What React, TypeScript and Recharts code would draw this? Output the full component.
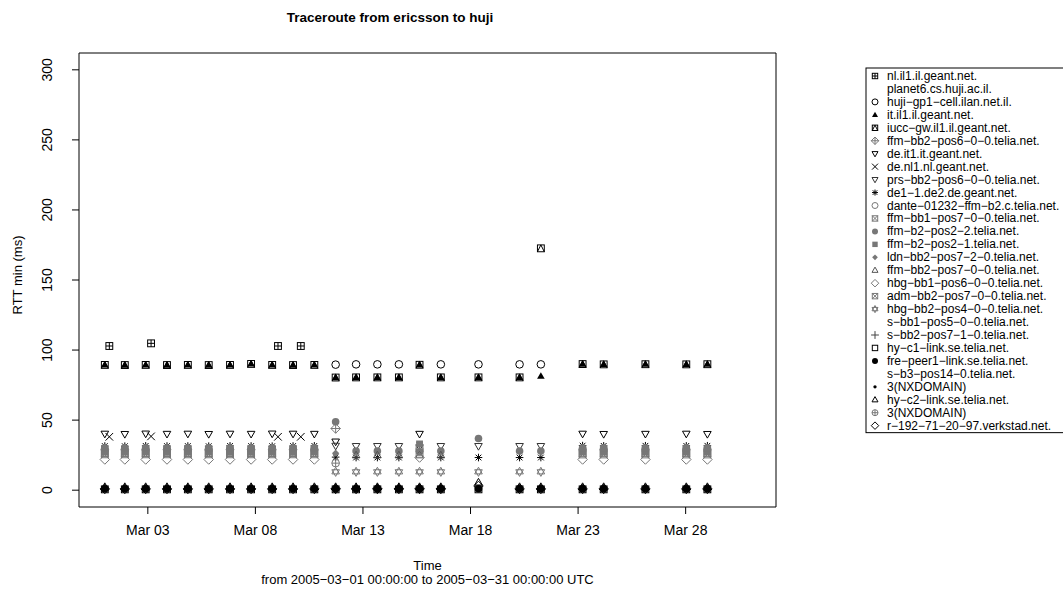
import React from 'react';
import { ScatterChart, Scatter, XAxis, YAxis, ReferenceArea, Label } from 'recharts';

const _ = null;

// measurement times, in days after 2005-03-01 00:00 UTC
const DAYS = [0.0, 0.93, 1.9, 2.89, 3.86, 4.83, 5.82, 6.8, 7.78, 8.75, 9.74, 10.73, 11.68, 12.67, 13.67, 14.63, 15.62, 17.37, 19.28, 20.27, 22.21, 23.19, 25.13, 27.03, 28.01];
// the few traceroutes that went through the Netherlands
const NL_DAYS = [0.21, 2.15, 8.05, 9.11];

const X_TICKS = [2, 7, 12, 17, 22, 27];
const X_TICK_LABELS = ['Mar 03', 'Mar 08', 'Mar 13', 'Mar 18', 'Mar 23', 'Mar 28'];
const Y_TICKS = [0, 50, 100, 150, 200, 250, 300];

// RTT min (ms) per hop
const nlIl1 = [102.9, 104.8, 102.9, 102.9];
const deNl1 = [38.1, 38.4, 38.1, 38.1];
const hujiGp1 = [_, _, _, _, _, _, _, _, _, _, _, 89.6, 89.8, 89.8, 89.8, _, 89.8, 89.8, 89.8, 89.8, _, _, _, _, _];
const itIl1 = [89.4, 89.3, 89.4, 89.3, 89.4, 89.3, 89.4, 90.1, 89.4, 89.3, 89.4, 80.4, 80.5, 80.5, 80.5, 89.5, 80.5, 80.5, 80.5, 81.4, 90.0, 89.8, 89.9, 89.8, 89.9];
const iuccGw = [89.4, 89.3, 89.4, 89.3, 89.4, 89.3, 89.4, 90.1, 89.4, 89.3, 89.4, 80.4, 80.5, 80.5, 80.5, 89.5, 80.5, 80.5, 80.5, 172.6, 90.0, 89.8, 89.9, 89.8, 89.9];
const ffmBb2Pos6 = [_, _, _, _, _, _, _, _, _, _, _, 44.0, _, _, _, _, _, _, _, _, _, _, _, _, _];
const deIt1 = [40.2, 40.0, 40.3, 40.1, 40.2, 40.0, 40.2, 40.1, 40.3, 40.2, 40.1, 34.6, _, _, _, 40.1, _, _, _, _, 40.2, 40.0, 40.1, 40.2, 40.0];
const prsBb2 = [_, _, _, _, _, _, _, _, _, _, _, 31.6, 31.4, 31.4, 31.4, _, 31.4, 31.4, 31.4, 31.4, _, _, _, _, _];
const de1De2 = [31.5, 31.4, 31.6, 31.5, 31.5, 31.4, 31.6, 31.5, 31.4, 31.5, 31.6, 23.6, 23.3, 23.3, 23.3, 32.0, 23.3, 23.3, 23.3, 23.3, 31.8, 31.6, 31.7, 31.6, 31.7];
const dante = [29.0, 29.0, 29.0, 29.0, 29.0, 29.0, 29.0, 29.0, 29.0, 29.0, 29.0, _, _, _, _, _, _, _, _, _, 29.0, 29.0, 29.0, 29.0, 29.0];
const ffmBb1 = [26.5, 26.5, 26.5, 26.5, 26.5, 26.5, 26.5, 26.5, 26.5, 26.5, 26.5, _, _, _, _, 30.2, _, _, _, _, 26.4, 26.4, 26.4, 26.4, 26.4];
const ffmB2Pos22 = [30.3, 30.3, 30.3, 30.3, 30.3, 30.3, 30.3, 30.3, 30.3, 30.3, 30.3, 48.8, 27.9, 27.9, 27.9, 27.4, 27.9, 36.9, 27.9, 27.9, 30.2, 30.2, 30.2, 30.2, 30.2];
const ffmB2Pos21 = [27.5, 27.5, 27.5, 27.5, 27.5, 27.5, 27.5, 27.5, 27.5, 27.5, 27.5, _, _, _, _, 33.0, _, _, _, _, 27.4, 27.4, 27.4, 27.4, 27.4];
const ldnBb2 = [_, _, _, _, _, _, _, _, _, _, _, 26.4, _, _, _, _, _, _, _, _, _, _, _, _, _];
const ffmBb2Pos7 = [_, _, _, _, _, _, _, _, _, _, _, _, 25.0, 25.0, 25.0, 25.0, 25.0, _, _, _, _, _, _, _, _];
const hbgBb1 = [21.9, 21.9, 21.9, 21.9, 21.9, 21.9, 21.9, 21.9, 21.9, 21.9, 21.9, _, _, _, _, 23.3, _, _, _, _, 21.9, 21.9, 21.9, 21.9, 21.9];
const admBb2 = [25.6, 25.6, 25.6, 25.6, 25.6, 25.6, 25.6, 25.6, 25.6, 25.6, 25.6, _, _, _, _, 27.0, _, _, _, _, 25.5, 25.5, 25.5, 25.5, 25.5];
const hbgBb2 = [_, _, _, _, _, _, _, _, _, _, _, 13.1, 13.1, 13.1, 13.1, 13.1, 13.1, 13.1, 13.1, 13.1, _, _, _, _, _];
const sBb2Pos71 = [_, _, _, _, _, _, _, _, _, _, _, 1.3, 1.3, 1.3, 1.3, 1.3, 1.3, _, _, _, _, _, _, _, _];
const hyC1 = [0.6, 0.6, 0.6, 0.6, 0.6, 0.6, 0.6, 0.6, 0.6, 0.6, 0.6, 0.6, 0.6, 0.6, 0.6, 0.6, 0.6, 0.6, 0.6, 0.6, 0.6, 0.6, 0.6, 0.6, 0.6];
const frePeer1 = [1.0, 1.0, 1.0, 1.0, 1.0, 1.0, 1.0, 1.0, 1.0, 1.0, 1.0, 1.0, 1.0, 1.0, 1.0, 1.0, 1.0, 1.0, 1.0, 1.0, 1.0, 1.0, 1.0, 1.0, 1.0];
const nx1 = [1.7, 1.7, 1.7, 1.7, 1.7, 1.7, 1.7, 1.7, 1.7, 1.7, 1.7, 1.7, 1.7, 1.7, 1.7, 1.7, 1.7, 1.7, 1.7, 1.7, 1.7, 1.7, 1.7, 1.7, 1.7];
const hyC2 = [2.4, 2.4, 2.4, 2.4, 2.4, 2.4, 2.4, 2.4, 2.4, 2.4, 2.4, 2.4, 2.4, 2.4, 2.4, 2.4, 2.4, 5.6, 2.4, 2.4, 2.4, 2.4, 2.4, 2.4, 2.4];
const nx2 = [_, _, _, _, _, _, _, _, _, _, _, 19.3, _, _, _, _, _, _, _, _, _, _, _, _, _];
const r192 = [0.9, 0.9, 0.9, 0.9, 0.9, 0.9, 0.9, 0.9, 0.9, 0.9, 0.9, 0.9, 0.9, 0.9, 0.9, 0.9, 0.9, 3.0, 0.9, 0.9, 0.9, 0.9, 0.9, 0.9, 0.9];

const BLACK = '#000';
const GREY = '#777';

// legend order, R pch codes (-1 = no symbol)
const SERIES = [
  { name: 'nl.il1.il.geant.net.', pch: 12, col: BLACK, x: NL_DAYS, y: nlIl1 },
  { name: 'planet6.cs.huji.ac.il.', pch: -1, col: BLACK, x: DAYS, y: [] },
  { name: 'huji\u2212gp1\u2212cell.ilan.net.il.', pch: 1, col: BLACK, x: DAYS, y: hujiGp1 },
  { name: 'it.il1.il.geant.net.', pch: 17, col: BLACK, x: DAYS, y: itIl1 },
  { name: 'iucc\u2212gw.il1.il.geant.net.', pch: 14, col: BLACK, x: DAYS, y: iuccGw },
  { name: 'ffm\u2212bb2\u2212pos6\u22120\u22120.telia.net.', pch: 9, col: GREY, x: DAYS, y: ffmBb2Pos6 },
  { name: 'de.it1.it.geant.net.', pch: 6, col: BLACK, x: DAYS, y: deIt1 },
  { name: 'de.nl1.nl.geant.net.', pch: 4, col: BLACK, x: NL_DAYS, y: deNl1 },
  { name: 'prs\u2212bb2\u2212pos6\u22120\u22120.telia.net.', pch: 6, col: '#333', x: DAYS, y: prsBb2 },
  { name: 'de1\u22121.de2.de.geant.net.', pch: 8, col: BLACK, x: DAYS, y: de1De2 },
  { name: 'dante\u221201232\u2212ffm\u2212b2.c.telia.net.', pch: 1, col: GREY, x: DAYS, y: dante },
  { name: 'ffm\u2212bb1\u2212pos7\u22120\u22120.telia.net.', pch: 7, col: GREY, x: DAYS, y: ffmBb1 },
  { name: 'ffm\u2212b2\u2212pos2\u22122.telia.net.', pch: 16, col: GREY, x: DAYS, y: ffmB2Pos22 },
  { name: 'ffm\u2212b2\u2212pos2\u22121.telia.net.', pch: 15, col: GREY, x: DAYS, y: ffmB2Pos21 },
  { name: 'ldn\u2212bb2\u2212pos7\u22122\u22120.telia.net.', pch: 18, col: GREY, x: DAYS, y: ldnBb2 },
  { name: 'ffm\u2212bb2\u2212pos7\u22120\u22120.telia.net.', pch: 2, col: '#555', x: DAYS, y: ffmBb2Pos7 },
  { name: 'hbg\u2212bb1\u2212pos6\u22120\u22120.telia.net.', pch: 5, col: GREY, x: DAYS, y: hbgBb1 },
  { name: 'adm\u2212bb2\u2212pos7\u22120\u22120.telia.net.', pch: 7, col: GREY, x: DAYS, y: admBb2 },
  { name: 'hbg\u2212bb2\u2212pos4\u22120\u22120.telia.net.', pch: 11, col: GREY, x: DAYS, y: hbgBb2 },
  { name: 's\u2212bb1\u2212pos5\u22120\u22120.telia.net.', pch: -1, col: BLACK, x: DAYS, y: [] },
  { name: 's\u2212bb2\u2212pos7\u22121\u22120.telia.net.', pch: 3, col: '#444', x: DAYS, y: sBb2Pos71 },
  { name: 'hy\u2212c1\u2212link.se.telia.net.', pch: 0, col: BLACK, x: DAYS, y: hyC1 },
  { name: 'fre\u2212peer1\u2212link.se.telia.net.', pch: 16, col: BLACK, x: DAYS, y: frePeer1 },
  { name: 's\u2212b3\u2212pos14\u22120.telia.net.', pch: -1, col: BLACK, x: DAYS, y: [] },
  { name: '3(NXDOMAIN)', pch: 20, col: BLACK, x: DAYS, y: nx1 },
  { name: 'hy\u2212c2\u2212link.se.telia.net.', pch: 2, col: BLACK, x: DAYS, y: hyC2 },
  { name: '3(NXDOMAIN)', pch: 10, col: GREY, x: DAYS, y: nx2 },
  { name: 'r\u2212192\u221271\u221220\u221297.verkstad.net.', pch: 5, col: BLACK, x: DAYS, y: r192 },
];

const FONT = '"Liberation Sans", Arial, Helvetica, sans-serif';

// R-style plotting symbols
const Pch = ({ cx, cy, pch, col, r }: any) => {
  const sw = 1;
  const line = (x1: number, y1: number, x2: number, y2: number, k: string) => (
    <line key={k} x1={x1} y1={y1} x2={x2} y2={y2} stroke={col} strokeWidth={sw} />
  );
  const up = `${cx},${cy - r * 1.05} ${cx + r},${cy + r * 0.7} ${cx - r},${cy + r * 0.7}`;
  const down = `${cx},${cy + r * 1.05} ${cx + r},${cy - r * 0.7} ${cx - r},${cy - r * 0.7}`;
  const d = r * 1.25;
  const diamond = `${cx},${cy - d} ${cx + d},${cy} ${cx},${cy + d} ${cx - d},${cy}`;
  const sq = r * 0.9;
  switch (pch) {
    case 0:
      return <rect x={cx - sq} y={cy - sq} width={sq * 2} height={sq * 2} fill="none" stroke={col} strokeWidth={sw} />;
    case 1:
      return <circle cx={cx} cy={cy} r={r} fill="none" stroke={col} strokeWidth={sw} />;
    case 2:
      return <polygon points={up} fill="none" stroke={col} strokeWidth={sw} />;
    case 3:
      return <g>{line(cx - r * 1.3, cy, cx + r * 1.3, cy, 'a')}{line(cx, cy - r * 1.3, cx, cy + r * 1.3, 'b')}</g>;
    case 4:
      return <g>{line(cx - r, cy - r, cx + r, cy + r, 'a')}{line(cx - r, cy + r, cx + r, cy - r, 'b')}</g>;
    case 5:
      return <polygon points={diamond} fill="none" stroke={col} strokeWidth={sw} />;
    case 6:
      return <polygon points={down} fill="none" stroke={col} strokeWidth={sw} />;
    case 7:
      return (
        <g>
          <rect x={cx - sq} y={cy - sq} width={sq * 2} height={sq * 2} fill="none" stroke={col} strokeWidth={sw} />
          {line(cx - sq, cy - sq, cx + sq, cy + sq, 'a')}
          {line(cx - sq, cy + sq, cx + sq, cy - sq, 'b')}
        </g>
      );
    case 8:
      return (
        <g>
          {line(cx - r, cy, cx + r, cy, 'a')}
          {line(cx, cy - r, cx, cy + r, 'b')}
          {line(cx - r * 0.75, cy - r * 0.75, cx + r * 0.75, cy + r * 0.75, 'c')}
          {line(cx - r * 0.75, cy + r * 0.75, cx + r * 0.75, cy - r * 0.75, 'd')}
        </g>
      );
    case 9:
      return (
        <g>
          <polygon points={diamond} fill="none" stroke={col} strokeWidth={sw} />
          {line(cx - d, cy, cx + d, cy, 'a')}
          {line(cx, cy - d, cx, cy + d, 'b')}
        </g>
      );
    case 10:
      return (
        <g>
          <circle cx={cx} cy={cy} r={r} fill="none" stroke={col} strokeWidth={sw} />
          {line(cx - r, cy, cx + r, cy, 'a')}
          {line(cx, cy - r, cx, cy + r, 'b')}
        </g>
      );
    case 11:
      return (
        <g>
          <polygon points={`${cx},${cy - r * 1.2} ${cx + r},${cy + r * 0.55} ${cx - r},${cy + r * 0.55}`} fill="none" stroke={col} strokeWidth={sw} />
          <polygon points={`${cx},${cy + r * 1.2} ${cx + r},${cy - r * 0.55} ${cx - r},${cy - r * 0.55}`} fill="none" stroke={col} strokeWidth={sw} />
        </g>
      );
    case 12:
      return (
        <g>
          <rect x={cx - sq} y={cy - sq} width={sq * 2} height={sq * 2} fill="none" stroke={col} strokeWidth={sw} />
          {line(cx - sq, cy, cx + sq, cy, 'a')}
          {line(cx, cy - sq, cx, cy + sq, 'b')}
        </g>
      );
    case 14:
      return (
        <g>
          <rect x={cx - sq} y={cy - sq} width={sq * 2} height={sq * 2} fill="none" stroke={col} strokeWidth={sw} />
          <polyline points={`${cx - sq},${cy + sq} ${cx},${cy - sq} ${cx + sq},${cy + sq}`} fill="none" stroke={col} strokeWidth={sw} />
        </g>
      );
    case 15:
      return <rect x={cx - sq} y={cy - sq} width={sq * 2} height={sq * 2} fill={col} />;
    case 16:
      return <circle cx={cx} cy={cy} r={r} fill={col} />;
    case 17:
      return <polygon points={up} fill={col} />;
    case 18: {
      const s = r * 0.95;
      return <polygon points={`${cx},${cy - s} ${cx + s},${cy} ${cx},${cy + s} ${cx - s},${cy}`} fill={col} />;
    }
    case 20:
      return <circle cx={cx} cy={cy} r={r * 0.55} fill={col} />;
    default:
      return <g />;
  }
};

const XTick = ({ x, y, payload }: any) => (
  <text x={x} y={y + 19} textAnchor="middle" fontSize={14} fill="#000" fontFamily={FONT}>
    {X_TICK_LABELS[X_TICKS.indexOf(payload.value)]}
  </text>
);

const YTick = ({ x, y, payload }: any) => (
  <text transform={`translate(${x - 18.5},${y}) rotate(-90)`} textAnchor="middle" fontSize={14} fill="#000" fontFamily={FONT}>
    {payload.value}
  </text>
);

const Legend28 = () => {
  const left = 866;
  const top = 68;
  const row = 12.95;
  const first = 76;
  return (
    <svg width={1063} height={596} style={{ position: 'absolute', left: 0, top: 0, pointerEvents: 'none' }}>
      <text x={390} y={22} textAnchor="middle" fontSize={13.5} fontWeight="bold" fontFamily={FONT}>
        Traceroute from ericsson to huji
      </text>
      <rect x={left} y={top} width={230} height={first - top + row * (SERIES.length - 1) + 7} fill="#fff" stroke="#000" strokeWidth={1} />
      {SERIES.map((s, i) => (
        <g key={i}>
          <Pch cx={875} cy={first + i * row} pch={s.pch} col={s.col} r={3} />
          <text x={887} y={first + i * row + 4} fontSize={12} fontFamily={FONT} fill="#000">
            {s.name}
          </text>
        </g>
      ))}
    </svg>
  );
};

export default function App() {
  return (
    <div style={{ position: 'absolute', left: 0, top: 0, width: 1063, height: 596, background: '#fff', overflow: 'hidden', fontFamily: FONT }}>
      <ScatterChart width={1063} height={596} margin={{ top: 53, right: 287, bottom: 59, left: 0 }}>
        <XAxis
          type="number"
          dataKey="x"
          domain={[-1.2, 31.2]}
          ticks={X_TICKS}
          interval={0}
          allowDataOverflow
          axisLine={false}
          tickLine={{ stroke: '#000' }}
          tickSize={7}
          height={30}
          tick={<XTick />}
        >
          <Label
            content={({ viewBox }: any) => {
              const cx = viewBox.x + viewBox.width / 2;
              return (
                <g fontFamily={FONT} fontSize={13} fill="#000">
                  <text x={cx} y={570} textAnchor="middle">Time</text>
                  <text x={cx} y={584} textAnchor="middle">
                    from 2005{'\u2212'}03{'\u2212'}01 00:00:00 to 2005{'\u2212'}03{'\u2212'}31 00:00:00 UTC
                  </text>
                </g>
              );
            }}
          />
        </XAxis>
        <YAxis
          type="number"
          dataKey="y"
          domain={[-12, 312]}
          ticks={Y_TICKS}
          interval={0}
          allowDataOverflow
          axisLine={false}
          tickLine={{ stroke: '#000' }}
          tickSize={7}
          width={79}
          tick={<YTick />}
        >
          <Label
            content={({ viewBox }: any) => {
              const cy = viewBox.y + viewBox.height / 2;
              return (
                <text transform={`translate(22,${cy - 5}) rotate(-90)`} textAnchor="middle" fontSize={13} fontFamily={FONT} fill="#000">
                  RTT min (ms)
                </text>
              );
            }}
          />
        </YAxis>
        <ReferenceArea x1={-1.2} x2={31.2} y1={-12} y2={312} fill="none" fillOpacity={0} stroke="#000" strokeWidth={1} />
        {SERIES.filter((s) => s.pch >= 0).map((s, i) => (
          <Scatter
            key={i}
            name={s.name}
            data={s.y.map((v, j) => ({ x: s.x[j], y: v })).filter((p) => p.y !== null)}
            isAnimationActive={false}
            shape={(p: any) => <Pch cx={p.cx} cy={p.cy} pch={s.pch} col={s.col} r={3.8} />}
          />
        ))}
      </ScatterChart>
      <Legend28 />
    </div>
  );
}
